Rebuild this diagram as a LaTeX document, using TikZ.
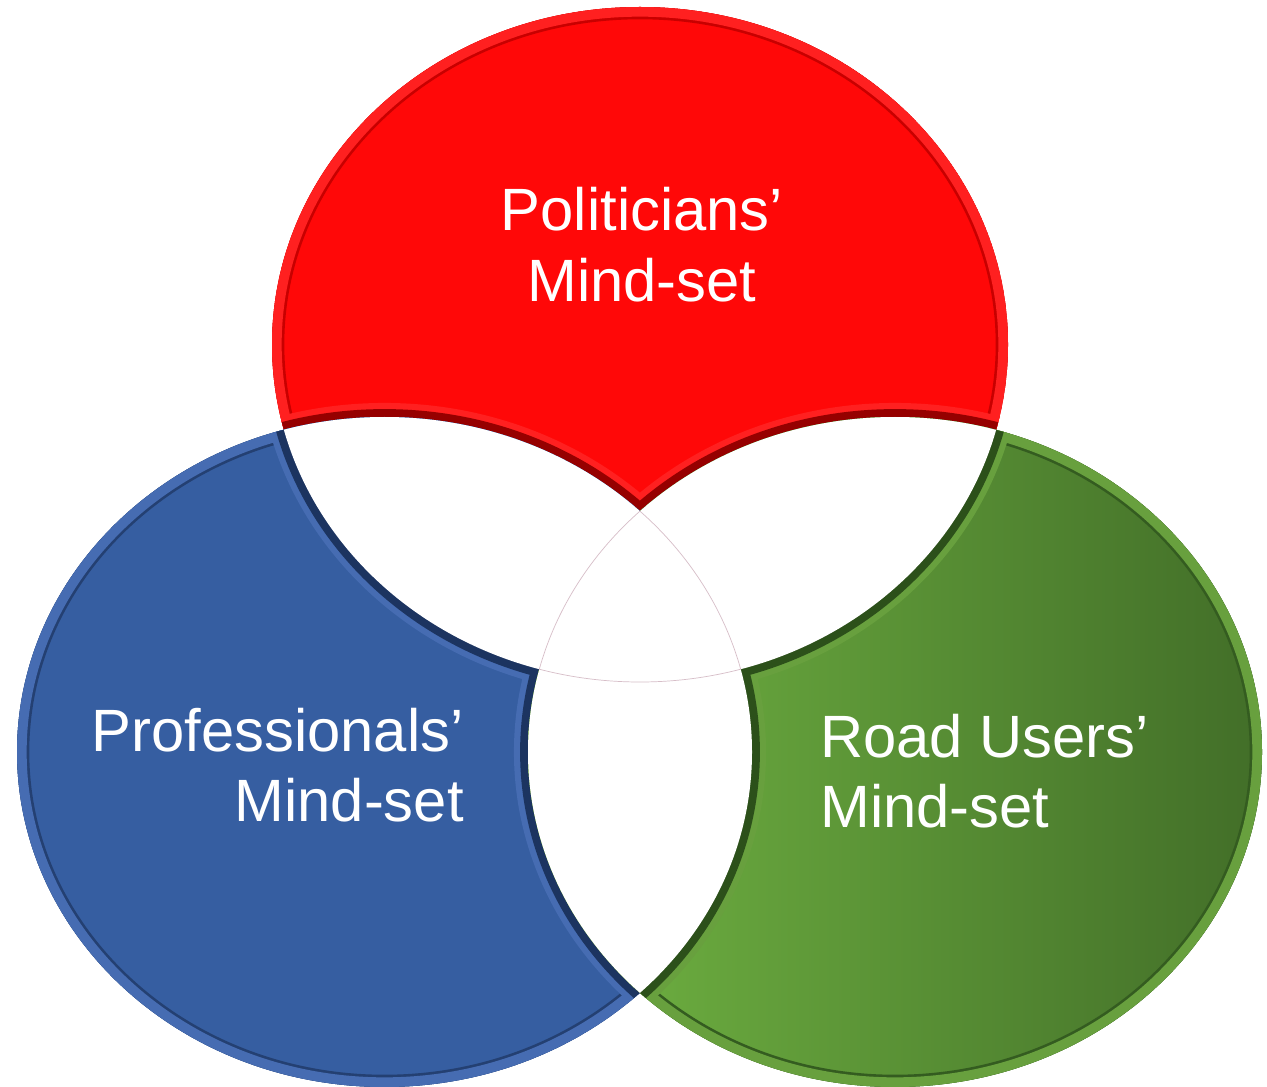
\documentclass[tikz,border=0pt]{standalone}
\usepackage{fontspec}
\setmainfont{Liberation Sans}

\definecolor{polred}{RGB}{255,8,8}
\definecolor{polrim}{RGB}{255,32,32}
\definecolor{polline}{RGB}{200,0,0}
\definecolor{poldark}{RGB}{150,0,0}
\definecolor{problue}{RGB}{54,94,161}
\definecolor{prorim}{RGB}{70,108,178}
\definecolor{proline}{RGB}{36,64,114}
\definecolor{prodark}{RGB}{28,52,96}
\definecolor{roadlight}{RGB}{114,182,67}
\definecolor{roaddark}{RGB}{66,110,40}
\definecolor{roadrim}{RGB}{104,160,62}
\definecolor{roadline}{RGB}{52,92,32}
\definecolor{roadedge}{RGB}{44,80,26}
\definecolor{hairgray}{RGB}{215,190,200}

% the three sets
\def\polset{(640,344.5) ellipse [x radius=368, y radius=337.5]}
\def\proset{(384.5,752) ellipse [x radius=367.5, y radius=335]}
\def\roadset{(895,752) ellipse [x radius=367, y radius=335]}

\begin{document}
\begin{tikzpicture}[x=0.02cm, y=-0.02cm,
  lbl/.style={text=white, inner sep=0pt, font=\fontsize{34}{40}\selectfont},
  hair/.style={draw=hairgray, line width=0.4pt}]

\useasboundingbox (0,0) rectangle (1267,1087);

% Politicians (red)
\begin{scope}
  \clip \polset;
  \fill[polred] \polset;
  \draw[polline, line width=14pt] \polset;
  \draw[polrim, line width=11pt] \polset;
  \draw[polrim, line width=16pt] \proset \roadset;
  \draw[poldark, line width=9pt] \proset \roadset;
\end{scope}

% Professionals (blue)
\begin{scope}
  \clip \proset;
  \fill[problue] \proset;
  \draw[proline, line width=14pt] \proset;
  \draw[prorim, line width=11pt] \proset;
  \draw[prorim, line width=16pt] \polset \roadset;
  \draw[prodark, line width=9pt] \polset \roadset;
\end{scope}

% Road users (green)
\begin{scope}
  \clip \roadset;
  \shade[left color=roadlight, right color=roaddark] \roadset;
  \draw[roadline, line width=14pt] \roadset;
  \draw[roadrim, line width=11pt] \roadset;
  \draw[roadrim, line width=16pt] \polset \proset;
  \draw[roadedge, line width=9pt] \polset \proset;
\end{scope}

% overlaps stay white
\begin{scope}
  \clip \polset;
  \fill[white] \proset;
  \fill[white] \roadset;
\end{scope}
\begin{scope}
  \clip \proset;
  \fill[white] \roadset;
\end{scope}

% thin lines round the middle
\begin{scope}
  \clip \proset; \clip \roadset;
  \draw[hair] \polset;
\end{scope}
\begin{scope}
  \clip \polset; \clip \roadset;
  \draw[hair] \proset;
\end{scope}
\begin{scope}
  \clip \polset; \clip \proset;
  \draw[hair] \roadset;
\end{scope}

% Labels
\node[lbl, align=center] (pol) at (642,244.6) {Politicians’\\Mind-set};
\node[lbl, align=right, anchor=east] (pro) at (464,765.3) {Professionals’\\Mind-set};
\node[lbl, align=left, anchor=west] (road) at (820,770.8) {Road Users’\\Mind-set};

\end{tikzpicture}
\end{document}
